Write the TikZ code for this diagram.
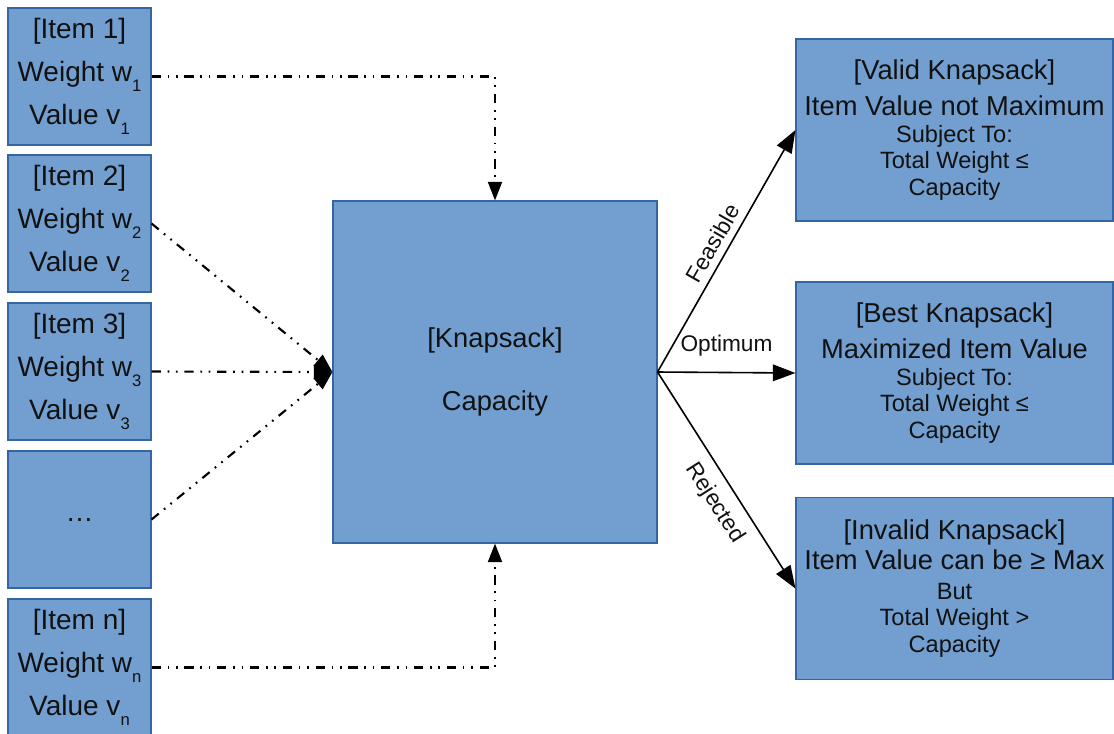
\documentclass[tikz,border=0pt]{standalone}
\usepackage{fontspec}
\setmainfont{Liberation Sans}
\usetikzlibrary{arrows.meta}
\newcommand{\idx}[1]{\raisebox{-7.5pt}{\fontsize{12.5}{14}\selectfont #1}}
\newcommand{\bigline}{\fontsize{20.5}{20}\selectfont}
\begin{document}
\begin{tikzpicture}[x=0.75pt,y=-0.75pt]
\definecolor{cbox}{HTML}{729FCF}\definecolor{cedge}{HTML}{3465A4}
\definecolor{cdark}{HTML}{111111}
\tikzset{box/.style={draw=cedge,fill=cbox,line width=0.8pt,inner sep=1pt,align=center,text=cdark},
 item/.style={box,minimum width=107.25pt,minimum height=102.75pt,font=\fontsize{21}{32}\selectfont},
 sack/.style={box,minimum width=243pt,minimum height=256.5pt,font=\fontsize{20.5}{32}\selectfont},
 result/.style={box,minimum width=237.75pt,minimum height=136.5pt,font=\fontsize{17.7}{20}\selectfont},
 feed/.style={line width=1.6pt,dash pattern=on 7pt off 5pt on 1.3pt off 5pt on 1.3pt off 5pt,-{Triangle[length=14pt,width=10.5pt]}},
 branch/.style={line width=1.2pt,-{Triangle[length=17pt,width=12.5pt]}},
 tag/.style={font=\fontsize{17}{20}\selectfont,text=cdark,inner sep=2pt}}
\useasboundingbox (0,0) rectangle (1114,733);
% items
\node[item] (i1) at (79.5,76.5) {[Item 1]\\Weight w\idx{1}\\Value v\idx{1}};
\node[item] (i2) at (79.5,223.5) {[Item 2]\\Weight w\idx{2}\\Value v\idx{2}};
\node[item] (i3) at (79.5,371.5) {[Item 3]\\Weight w\idx{3}\\Value v\idx{3}};
\node[item] (dots) at (79.5,519.5) {…};
\node[item] (in) at (79.5,667.5) {[Item n]\\Weight w\idx{n}\\Value v\idx{n}};
% knapsack
\node[sack] (sack) at (495,372) {[Knapsack]\\[15pt]Capacity};
% results
\node[result] (valid) at (954.5,130) {{\bigline [Valid Knapsack]}\\[7pt]{\bigline Item Value not Maximum}\\Subject To:\\Total Weight ≤\\Capacity};
\node[result] (best) at (954.5,373) {{\bigline [Best Knapsack]}\\[7pt]{\bigline Maximized Item Value}\\Subject To:\\Total Weight ≤\\Capacity};
\node[result] (invalid) at (954.5,588.5) {{\bigline [Invalid Knapsack]}\\[3pt]{\bigline Item Value can be ≥ Max}\\[2pt]But\\Total Weight >\\Capacity};
% connectors
\draw[feed] (i1.east) -| (sack.north);
\draw[feed] (i2.east) -- (sack.west);
\draw[feed] (i3.east) -- (sack.west);
\draw[feed] (dots.east) -- (sack.west);
\draw[feed] (in.east) -| (sack.south);
\draw[branch] (sack.east) -- node[tag,sloped,above=3pt]{Feasible} (valid.west);
\draw[branch] (sack.east) -- node[tag,above=10pt]{Optimum} (best.west);
\draw[branch] (sack.east) -- node[tag,sloped,below=6pt,pos=0.55]{Rejected} (invalid.west);
\end{tikzpicture}
\end{document}
